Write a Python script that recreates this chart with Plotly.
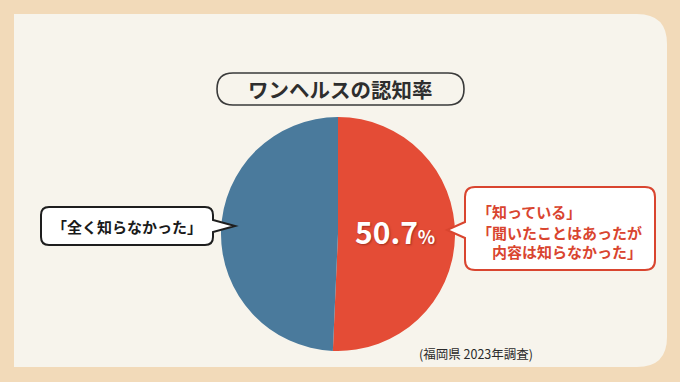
import plotly.graph_objects as go

labels = ["知っている／聞いたことはあったが内容は知らなかった", "全く知らなかった"]
values = [50.7, 49.3]
colors = ["#E44C36", "#4A7A9C"]
title_text = "ワンヘルスの認知率"
left_label = "「全く知らなかった」"
right_lines = ["「知っている」", "「聞いたことはあったが", "　内容は知らなかった」"]
source_text = "(福岡県 2023年調査)"

W, H = 680, 382
FONT = "Noto Sans CJK JP"

fig = go.Figure()
fig.add_trace(go.Pie(
    labels=labels, values=values, sort=False, direction="clockwise", rotation=0,
    marker=dict(colors=colors, line=dict(width=0)),
    textinfo="none", hoverinfo="label+value", showlegend=False,
    domain=dict(x=[221 / W, 455 / W], y=[1 - 351 / H, 1 - 117 / H]),
))

def rrect(x0, y0, x1, y1, r):
    return (f"M{x0+r},{y0} L{x1-r},{y0} Q{x1},{y0} {x1},{y0+r} L{x1},{y1-r} "
            f"Q{x1},{y1} {x1-r},{y1} L{x0+r},{y1} Q{x0},{y1} {x0},{y1-r} "
            f"L{x0},{y0+r} Q{x0},{y0} {x0+r},{y0} Z")

shapes = []
# card
shapes.append(dict(type="path", xref="x", yref="y", layer="below",
                   path="M14,14 L637,14 Q667,14 667,44 L667,337 Q667,367 637,367 L14,367 Z",
                   fillcolor="#F7F4EC", line=dict(width=0)))
# title pill
shapes.append(dict(type="path", xref="x", yref="y",
                   path=rrect(217, 73, 464, 105, 16),
                   fillcolor="rgba(0,0,0,0)", line=dict(color="#3A3A3A", width=1.6)))
# left bubble
lb = ("M49,207 L205,207 Q213,207 213,215 L213,220 L235,226 L213,232 L213,237 "
      "Q213,245 205,245 L49,245 Q41,245 41,237 L41,215 Q41,207 49,207 Z")
shapes.append(dict(type="path", xref="x", yref="y", path=lb,
                   fillcolor="#FFFFFF", line=dict(color="#1E1E1E", width=2)))
# right bubble
rb = ("M475,187 L645,187 Q655,187 655,197 L655,260 Q655,270 645,270 L475,270 "
      "Q465,270 465,260 L465,238 L447,230 L465,222 L465,197 Q465,187 475,187 Z")
shapes.append(dict(type="path", xref="x", yref="y", path=rb,
                   fillcolor="#FFFFFF", line=dict(color="#D9452F", width=2)))

pct_text = f"<b>{values[0]}<span style='font-size:18px'>%</span></b>"
annotations = [
    dict(x=340.5, y=89, text=f"<b>{title_text}</b>", showarrow=False,
         font=dict(family=FONT, size=20.5, color="#2E2E2E"), xanchor="center", yanchor="middle"),
    dict(x=127, y=226, text=f"<b>{left_label}</b>", showarrow=False,
         font=dict(family=FONT, size=15, color="#1A1A1A"), xanchor="center", yanchor="middle"),
    dict(x=395, y=231, text=pct_text, showarrow=False,
         font=dict(family=FONT, size=30, color="#FFFFFF",
                   shadow="1px 1px 2px rgba(110,25,15,0.55)"),
         xanchor="center", yanchor="middle"),
    dict(x=475, y=211, text=f"<b>{right_lines[0]}</b>", showarrow=False,
         font=dict(family=FONT, size=15, color="#D9452F"), xanchor="left", yanchor="middle"),
    dict(x=475, y=232, text=f"<b>{right_lines[1]}</b>", showarrow=False,
         font=dict(family=FONT, size=15, color="#D9452F"), xanchor="left", yanchor="middle"),
    dict(x=475, y=251, text=f"<b>{right_lines[2]}</b>", showarrow=False,
         font=dict(family=FONT, size=15, color="#D9452F"), xanchor="left", yanchor="middle"),
    dict(x=475.5, y=353, text=source_text, showarrow=False,
         font=dict(family=FONT, size=12.5, color="#2A2A2A"), xanchor="center", yanchor="middle"),
]
for a in annotations:
    a.update(xref="x", yref="y")

fig.update_layout(
    width=W, height=H, margin=dict(l=0, r=0, t=0, b=0),
    paper_bgcolor="#F2DAB9", plot_bgcolor="rgba(0,0,0,0)",
    xaxis=dict(range=[0, W], visible=False, fixedrange=True),
    yaxis=dict(range=[H, 0], visible=False, fixedrange=True),
    shapes=shapes, annotations=annotations,
)
fig.write_html("out.html", config={"displayModeBar": False},
               post_script="document.body.style.margin='0';document.body.style.overflow='hidden';")
